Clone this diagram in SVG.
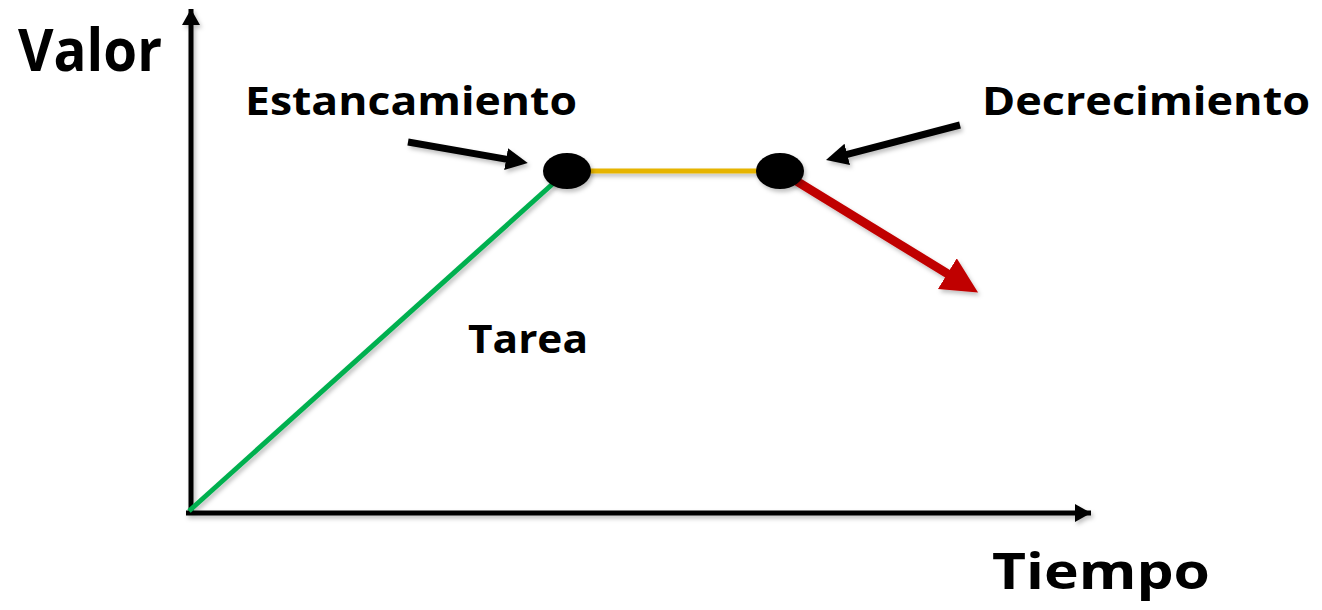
<svg xmlns="http://www.w3.org/2000/svg" width="1322" height="610" viewBox="0 0 1322 610">
  <style>
    .lbl { font-family: "Open Sans", "Liberation Sans", sans-serif; font-weight: 700; fill: #000; }
    .axis { stroke: #000; stroke-width: 5; fill: none; }
    .callout { stroke: #000; stroke-width: 7; fill: none; }
    .dot { fill: #000; }
  </style>
  <defs>
    <filter id="sh" x="-20%" y="-20%" width="140%" height="140%">
      <feDropShadow dx="2" dy="3" stdDeviation="2" flood-color="#000" flood-opacity="0.25"/>
    </filter>
    <marker id="axisHead" markerUnits="userSpaceOnUse" markerWidth="18" markerHeight="18" refX="16" refY="9" orient="auto" viewBox="0 0 18 18">
      <path d="M0,0 L16,9 L0,18 z" fill="#000"/>
    </marker>
    <marker id="blackHead" markerUnits="userSpaceOnUse" markerWidth="24" markerHeight="24" refX="7" refY="11" orient="auto" viewBox="0 0 24 24">
      <path d="M0,0 L22,11 L0,22 z" fill="#000"/>
    </marker>
    <marker id="redHead" markerUnits="userSpaceOnUse" markerWidth="38" markerHeight="38" refX="16" refY="18" orient="auto" viewBox="0 0 38 38">
      <path d="M0,0 L36,18 L0,36 z" fill="#C00000"/>
    </marker>
  </defs>

  <g id="connectors" filter="url(#sh)">
    <line id="y-axis" class="axis" x1="191" y1="515" x2="191" y2="9" marker-end="url(#axisHead)"/>
    <line id="x-axis" class="axis" x1="186" y1="513" x2="1091" y2="513" marker-end="url(#axisHead)"/>
    <line id="green" x1="189" y1="511" x2="567" y2="171" stroke="#00B050" stroke-width="5"/>
    <line id="yellow" x1="567" y1="171" x2="780" y2="171" stroke="#E6B400" stroke-width="5"/>
    <line id="red" x1="780" y1="171" x2="961" y2="282" stroke="#C00000" stroke-width="9" marker-end="url(#redHead)"/>
    <line id="arrow-estancamiento" class="callout" x1="408" y1="142" x2="513" y2="160.4" marker-end="url(#blackHead)"/>
    <line id="arrow-decrecimiento" class="callout" x1="960" y1="125" x2="840.5" y2="156.2" marker-end="url(#blackHead)"/>
  </g>

  <g id="node-estancamiento" filter="url(#sh)">
    <ellipse class="dot" cx="567" cy="171" rx="24" ry="18"/>
  </g>
  <g id="node-decrecimiento" filter="url(#sh)">
    <ellipse class="dot" cx="780" cy="171" rx="24" ry="18"/>
  </g>

  <g id="labels">
    <text class="lbl" x="18" y="71" font-size="59" textLength="144" lengthAdjust="spacingAndGlyphs">Valor</text>
    <text class="lbl" x="245" y="115" font-size="40" textLength="332" lengthAdjust="spacingAndGlyphs">Estancamiento</text>
    <text class="lbl" x="982" y="115" font-size="40" textLength="328" lengthAdjust="spacingAndGlyphs">Decrecimiento</text>
    <text class="lbl" x="468" y="353" font-size="39" textLength="120" lengthAdjust="spacingAndGlyphs">Tarea</text>
    <text class="lbl" x="992" y="589" font-size="51" textLength="218" lengthAdjust="spacingAndGlyphs">Tiempo</text>
  </g>
</svg>
